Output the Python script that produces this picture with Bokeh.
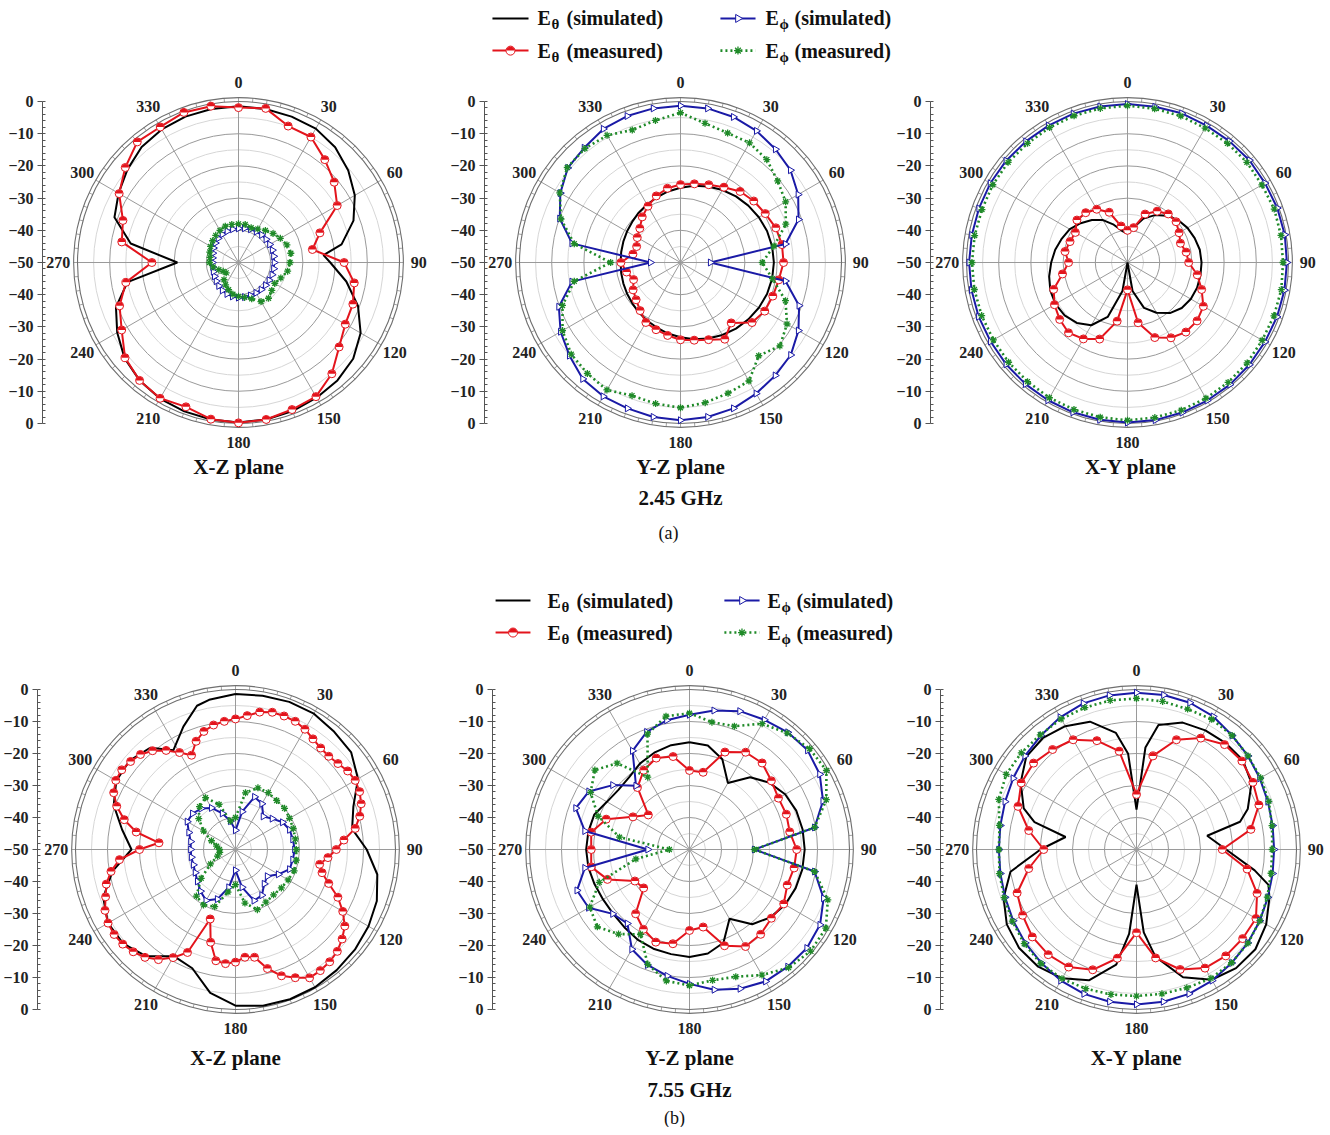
import numpy as np
from bokeh.plotting import figure
from bokeh.layouts import row, column
from bokeh.models import LinearAxis, FixedTicker, CustomJSTickFormatter, Range1d
from bokeh.core.properties import value
from bokeh.embed import file_html
from bokeh.resources import INLINE

# ---------------- data (dB, angle in degrees, 0 at top, clockwise) ----------------
A10 = list(range(0, 360, 10))
A5 = list(range(0, 360, 5))
ANGLE_TICKS = list(range(0, 360, 30))
RADIAL_TICKS = [-50, -40, -30, -20, -10, 0, 10, 20, 30, 40, 50]

# (a) 2.45 GHz, X-Z plane
xz245_th_sim_ang = [0, 10, 20, 30, 40, 50, 60, 70, 80, 85, 90, 100, 110, 120, 130, 140, 150, 160, 170, 180,
                    190, 200, 210, 220, 230, 240, 250, 260, 270, 280, 290, 300, 310, 320, 330, 340, 350]
xz245_th_sim = [-1.5, -1.6, -1.8, -2.0, -3.3, -5.5, -8.3, -12.0, -17.5, -23.5, -21.5, -16.0, -10.5, -6.2, -3.5,
                -2.2, -1.5, -0.9, -0.5, -0.3, -0.5, -0.8, -1.2, -2.2, -3.8, -6.5, -9.5, -15.0, -31.0, -16.0,
                -9.0, -7.0, -5.0, -3.2, -2.3, -1.8, -1.6]
xz245_th_meas = [-1.9, -1.4, -4.9, -5.0, -8.3, -11.2, -14.6, -23.1, -26.7, -17.2, -13.5, -12.2, -11.7, -9.2,
                 -4.9, -1.9, -1.4, -0.5, -0.2, -0.6, -2.3, -1.3, -2.2, -4.0, -8.1, -10.7, -14.5, -23.1, -13.2,
                 -11.8, -7.2, -4.1, -1.1, -1.4, -0.4, -0.7]
xz245_ph_sim = [-39.4, -39.2, -39.0, -38.9, -38.8, -38.8, -38.8, -38.8, -38.9, -38.9, -38.9, -38.9, -39.0,
                -39.0, -39.0, -39.1, -39.1, -39.1, -39.1, -39.3, -39.6, -40.0, -40.5, -41.0, -41.4, -41.7,
                -41.9, -41.9, -41.8, -41.5, -41.0, -40.6, -40.2, -39.9, -39.7, -39.5]
xz245_ph_meas = [-38.0, -38.0, -38.5, -38.0, -37.0, -36.0, -35.0, -34.0, -33.5, -34.0, -34.5, -36.0, -37.0,
                 -36.5, -35.5, -36.0, -38.0, -39.0, -39.5, -40.0, -41.0, -42.0, -43.0, -45.0, -44.5, -43.5,
                 -42.0, -41.0, -41.0, -40.5, -40.0, -39.5, -39.0, -38.5, -38.0, -38.0]

# (a) 2.45 GHz, Y-Z plane
yz245_th_sim = [-26.8, -25.8, -24.9, -24.0, -23.2, -22.5, -21.9, -21.4, -21.1, -21.0, -21.1, -21.4, -21.9,
                -22.5, -23.2, -24.0, -24.9, -25.8, -26.8, -27.6, -28.5, -29.2, -29.8, -30.4, -30.8, -31.1,
                -31.3, -31.4, -31.3, -31.1, -30.8, -30.4, -29.8, -29.2, -28.5, -27.6]
yz245_th_meas = [-25.8, -25.2, -24.3, -23.0, -21.2, -20.3, -19.6, -18.5, -18.0, -18.0, -19.0, -19.5, -19.8,
                 -21.0, -25.5, -22.5, -24.5, -25.5, -26.0, -27.0, -27.8, -28.5, -30.5, -32.0, -33.0, -34.5,
                 -33.0, -31.5, -35.0, -35.5, -34.5, -33.5, -31.5, -29.8, -28.0, -26.6]
yz245_ph_sim = [-1.3, -1.4, -1.9, -2.8, -4.1, -5.4, -7.8, -11.0, -16.9, -40.7, -16.9, -10.8, -7.7, -5.3, -4.2,
                -3.0, -1.8, -1.3, -1.0, -1.3, -1.8, -2.0, -2.8, -5.0, -7.0, -9.8, -15.8, -40.7, -15.8, -10.1,
                -6.9, -4.3, -3.5, -2.1, -1.6, -1.4]
yz245_ph_meas = [-3.5, -6.1, -7.2, -7.1, -8.3, -10.6, -12.3, -15.2, -20.5, -24.6, -21.0, -15.3, -11.8, -9.7,
                 -12.2, -7.5, -6.8, -5.8, -4.9, -5.5, -6.0, -4.3, -5.0, -5.7, -7.7, -11.0, -16.5, -28.3, -16.5,
                 -10.5, -6.7, -4.1, -3.8, -4.4, -6.2, -5.2]

# (a) 2.45 GHz, X-Y plane
xy245_th_sim = [-41.0, -39.0, -35.5, -33.0, -31.0, -29.5, -28.5, -27.8, -27.2, -27.0, -27.0, -27.0, -27.3,
                -28.0, -29.5, -32.0, -35.0, -41.0, -50.0, -41.0, -32.0, -27.5, -25.5, -24.5, -24.2, -24.5,
                -25.3, -26.3, -27.2, -28.3, -29.3, -31.0, -32.8, -34.8, -37.5, -40.0]
xy245_th_meas = [-40.0, -39.0, -34.0, -31.6, -30.3, -30.3, -31.5, -32.5, -31.5, -31.0, -28.0, -25.5, -22.8,
                 -21.8, -21.8, -23.0, -25.2, -31.0, -41.5, -31.5, -24.7, -22.6, -21.5, -22.5, -23.8, -25.6,
                 -29.5, -31.7, -30.3, -31.0, -31.3, -29.5, -29.8, -30.9, -33.4, -38.5]
xy245_ph_sim = [-0.8, -0.9, -0.7, -0.9, -0.8, -0.6, -0.7, -0.5, -0.4, -0.5, -0.5, -0.6, -0.7, -0.6, -0.5, -0.5,
                -0.4, -0.3, -0.3, -0.4, -0.5, -0.6, -0.7, -0.8, -0.9, -0.8, -0.8, -0.8, -0.9, -0.9, -0.8, -0.8,
                -0.9, -0.9, -0.8, -0.8]
xy245_ph_meas = [-1.3, -1.5, -1.6, -1.8, -1.7, -1.6, -1.8, -1.5, -1.6, -1.7, -1.5, -1.6, -1.7, -1.5, -1.4,
                 -1.3, -1.2, -1.1, -1.0, -1.2, -1.4, -1.5, -1.7, -1.8, -1.9, -1.8, -1.7, -1.7, -1.8, -1.9,
                 -1.7, -1.6, -1.7, -1.6, -1.5, -1.4]

# (b) 7.55 GHz, X-Z plane
xz755_th_sim_ang = [0, 10, 20, 30, 40, 50, 60, 70, 80, 90, 100, 110, 120, 130, 140, 150, 160, 170, 180, 190,
                    200, 210, 220, 230, 240, 250, 260, 270, 280, 290, 300, 310, 320, 328, 337, 345, 350]
xz755_th_sim = [-1.4, -1.2, -0.9, -1.0, -2.0, -2.8, -5.8, -10.8, -13.0, -9.0, -5.0, -3.0, -2.0, -1.3, -0.8,
                -0.3, -0.2, -0.4, -1.2, -4.5, -10.5, -11.5, -6.5, -4.2, -4.0, -6.0, -11.0, -17.5, -14.0, -9.5,
                -7.0, -6.8, -8.5, -13.4, -8.3, -3.5, -2.5]
xz755_th_meas = [-9.2, -8.0, -6.4, -5.6, -5.6, -5.8, -6.6, -7.8, -8.6, -8.8, -8.2, -7.2, -6.8, -7.2, -8.2, -9.8,
                 -12.0, -16.0, -18.5, -21.0, -23.3, -22.0, -19.0, -14.7, -11.3, -8.3, -6.5, -5.0, -4.2, -3.8,
                 -3.7, -5.8, -8.0, -11.5, -15.8, -16.2, -14.8, -14.2, -14.7, -20.0, -26.9, -14.5, -11.0, -8.0,
                 -6.0, -4.8, -4.0, -3.7, -4.0, -5.0, -6.8, -8.2, -10.5, -13.6, -20.0, -26.0, -18.5, -14.0,
                 -10.5, -8.0, -6.8, -6.6, -7.2, -8.0, -9.7, -12.2, -15.0, -17.5, -14.0, -11.8, -10.5, -9.8]
xz755_ph_sim = [-44.0, -38.0, -32.5, -33.5, -36.5, -35.0, -33.0, -32.0, -31.8, -31.5, -31.8, -32.0, -34.5,
                -37.0, -36.0, -33.5, -33.0, -38.0, -43.5, -38.0, -33.5, -31.6, -33.0, -34.5, -35.5, -36.0,
                -36.0, -36.0, -35.8, -34.5, -32.6, -32.5, -33.3, -35.0, -38.0, -41.0]
xz755_ph_meas = [-40.0, -32.0, -29.5, -29.5, -30.0, -30.0, -30.5, -30.8, -31.0, -31.0, -30.7, -30.5, -31.0,
                 -31.3, -31.5, -31.0, -30.0, -33.0, -39.0, -36.5, -31.0, -30.0, -31.0, -36.0, -41.0, -44.0,
                 -45.0, -45.0, -44.0, -42.0, -38.5, -35.0, -32.5, -31.3, -35.0, -41.0]

# (b) 7.55 GHz, Y-Z plane
yz755_th_sim = [-16.5, -17.0, -20.0, -26.0, -20.5, -17.5, -15.5, -14.5, -14.1, -14.0, -14.2, -14.7, -15.5,
                -17.0, -19.5, -25.0, -19.0, -17.0, -16.4, -16.8, -17.0, -17.5, -18.3, -18.8, -18.8, -18.4,
                -17.9, -17.7, -17.9, -18.3, -20.2, -21.0, -20.6, -19.0, -17.8, -16.9]
yz755_th_meas = [-25.3, -25.5, -17.6, -14.9, -14.7, -16.6, -17.9, -17.8, -18.2, -16.5, -16.8, -17.5, -16.0,
                 -16.6, -15.4, -15.0, -18.0, -25.4, -24.7, -20.1, -19.2, -21.2, -23.8, -31.3, -30.3, -22.7,
                 -18.8, -19.3, -18.8, -22.3, -29.6, -33.2, -24.7, -21.4, -19.6, -20.5]
yz755_ph_sim = [-7.9, -5.9, -4.0, -3.2, -2.2, -1.8, -3.0, -5.6, -10.3, -29.7, -10.3, -5.4, -2.9, -2.1, -2.2,
                -2.4, -3.7, -5.5, -8.0, -9.9, -11.6, -14.0, -19.8, -18.7, -13.6, -12.6, -16.8, -37.0, -16.8,
                -12.2, -13.7, -18.7, -24.0, -14.4, -10.9, -9.0]
yz755_ph_meas = [-7.4, -9.6, -9.0, -4.6, -2.5, -1.0, -0.6, -4.5, -10.3, -29.7, -10.3, -4.0, -0.8, -0.6, -1.8,
                 -4.7, -7.7, -8.5, -7.5, -8.3, -11.8, -19.4, -15.5, -12.4, -14.0, -20.0, -33.0, -43.7, -27.8,
                 -19.6, -14.3, -11.4, -14.8, -23.9, -11.6, -7.7]

# (b) 7.55 GHz, X-Y plane
xy755_th_sim_ang = [0, 5, 10, 20, 30, 40, 50, 60, 70, 75, 79, 90, 100, 105, 110, 120, 130, 140, 150, 160, 170,
                    175, 180, 185, 190, 200, 210, 220, 230, 240, 250, 260, 270, 280, 285, 290, 300, 310, 320,
                    330, 340, 350, 355]
xy755_th_sim = [-37.5, -18.0, -10.5, -7.8, -7.0, -6.6, -6.6, -8.5, -13.0, -16.5, -27.5, -22.0, -12.5, -7.3,
                -5.8, -3.2, -1.5, -1.6, -3.0, -7.5, -16.0, -24.0, -39.0, -23.5, -13.5, -6.5, -3.5, -2.2, -2.1,
                -3.2, -5.8, -10.0, -20.0, -27.5, -17.0, -12.5, -8.2, -5.0, -4.5, -5.5, -7.5, -13.0, -20.0]
xy755_th_meas = [-32.8, -20.3, -13.5, -9.8, -7.2, -7.0, -8.0, -9.3, -13.7, -23.2, -14.9, -9.9, -6.9, -6.7,
                 -6.6, -7.2, -10.1, -15.6, -24.0, -15.5, -10.0, -7.6, -7.1, -7.5, -8.9, -10.3, -15.8, -21.0,
                 -15.8, -10.6, -8.4, -8.0, -9.2, -10.4, -13.8, -18.8]
xy755_ph_sim = [-1.0, -1.0, -1.2, -2.0, -3.5, -4.5, -5.5, -6.3, -6.8, -7.0, -6.8, -6.3, -5.5, -4.6, -3.7, -2.7,
                -2.0, -1.7, -1.6, -1.7, -2.0, -2.7, -3.7, -4.6, -5.5, -6.3, -6.8, -7.0, -6.8, -6.3, -5.5, -4.5,
                -3.5, -2.3, -1.4, -1.1]
xy755_ph_meas = [-2.8, -3.0, -3.3, -3.0, -3.5, -4.5, -5.2, -6.0, -7.0, -7.6, -7.3, -6.5, -5.5, -4.5, -3.8,
                 -3.5, -4.0, -4.2, -4.2, -4.0, -3.7, -3.4, -3.5, -4.2, -5.2, -6.0, -6.5, -7.0, -6.5, -4.2,
                 -3.0, -3.0, -3.2, -2.9, -2.8, -2.7]

# ---------------- styling ----------------
FONT = "Liberation Serif"
BLACK = "#000000"
RED = "#e3141c"
BLUE = "#1a1aa6"
GREEN = "#1f8a28"
GRID_MAJOR = "#9a9a9a"
GRID_MINOR = "#d6d6d6"


def to_xy(ang, db):
    a = np.radians(np.asarray(ang, dtype=float))
    r = np.clip(np.asarray(db, dtype=float) + 50.0, 0.0, None)
    return r * np.sin(a), r * np.cos(a)


def draw_series(p, ang, db, kind):
    mx, my = to_xy(ang, db)
    x = np.append(mx, mx[0])
    y = np.append(my, my[0])
    if kind == "th_sim":
        p.line(x, y, line_color=BLACK, line_width=2)
    elif kind == "th_meas":
        p.line(x, y, line_color=RED, line_width=2)
        p.scatter(mx, my, marker="circle", size=8, fill_color="white", line_color=RED, line_width=1)
        p.wedge(mx, my, radius=3.6, radius_units="screen", start_angle=0, end_angle=np.pi,
                fill_color=RED, line_color=None)
    elif kind == "ph_sim":
        p.line(x, y, line_color=BLUE, line_width=2)
        p.scatter(mx, my, marker="triangle", angle=-np.pi / 2, size=7, fill_color="white",
                  line_color=BLUE, line_width=1)
    elif kind == "ph_meas":
        p.line(x, y, line_color=GREEN, line_width=2.6, line_dash="2 3")
        p.scatter(mx, my, marker="asterisk", size=7, line_color=GREEN, line_width=1.3)


def legend_sample(p, xa, xb, yy, kind):
    xm = 0.5 * (xa + xb)
    if kind == "th_sim":
        p.line([xa, xb], [yy, yy], line_color=BLACK, line_width=2)
    elif kind == "th_meas":
        p.line([xa, xb], [yy, yy], line_color=RED, line_width=2)
        p.scatter([xm], [yy], marker="circle", size=9, fill_color="white", line_color=RED, line_width=1)
        p.wedge([xm], [yy], radius=4.2, radius_units="screen", start_angle=0, end_angle=np.pi,
                fill_color=RED, line_color=None)
    elif kind == "ph_sim":
        p.line([xa, xb], [yy, yy], line_color=BLUE, line_width=2)
        p.scatter([xm], [yy], marker="triangle", angle=-np.pi / 2, size=8, fill_color="white",
                  line_color=BLUE, line_width=1)
    elif kind == "ph_meas":
        p.line([xa, xb], [yy, yy], line_color=GREEN, line_width=2.6, line_dash="2 3")
        p.scatter([xm], [yy], marker="asterisk", size=8, line_color=GREEN, line_width=1.3)


def legend_entry(p, xt, yy, sub, word):
    common = dict(text_font=value(FONT), text_font_style="bold", text_color="#111",
                  text_baseline="middle", text_align="left")
    p.text([xt], [yy], text=["E"], text_font_size="20px", **common)
    p.text([xt], [yy], text=[sub], text_font_size="15px", x_offset=14, y_offset=6, **common)
    p.text([xt], [yy], text=[word], text_font_size="20px", x_offset=29, **common)


def make_panel(frame_w, frame_h, border, cx, cy, s, series, captions, legend=None):
    x0, x1 = -cx / s, (frame_w - cx) / s
    y0, y1 = -(frame_h - cy) / s, cy / s
    p = figure(frame_width=frame_w, frame_height=frame_h, x_range=Range1d(x0, x1), y_range=Range1d(y0, y1),
               x_axis_location=None, y_axis_location=None, toolbar_location=None, output_backend="svg",
               min_border_left=border, min_border_right=0, min_border_top=0, min_border_bottom=0,
               title=None)
    p.outline_line_color = None
    p.background_fill_color = "white"
    p.border_fill_color = "white"
    p.xgrid.visible = False
    p.ygrid.visible = False

    # radial axis on the left
    ax = LinearAxis(ticker=FixedTicker(ticks=RADIAL_TICKS, minor_ticks=list(range(-50, 51, 2))),
                    formatter=CustomJSTickFormatter(
                        code="var v = Math.abs(tick) - 50; return v < 0 ? '\u2212' + String(-v) : String(v);"),
                    bounds=(-50, 50))
    ax.axis_line_color = "#555555"
    ax.major_tick_line_color = "#555555"
    ax.minor_tick_line_color = "#555555"
    ax.major_tick_out = 5
    ax.major_tick_in = 0
    ax.minor_tick_out = 0
    ax.minor_tick_in = 3
    ax.major_label_standoff = 4
    ax.major_label_text_font = FONT
    ax.major_label_text_font_style = "bold"
    ax.major_label_text_font_size = "16px"
    ax.major_label_text_color = "#222222"
    p.add_layout(ax, "left")

    # polar grid
    minor_r = [5, 15, 25, 35, 45]
    major_r = [10, 20, 30, 40]
    p.circle([0] * len(minor_r), [0] * len(minor_r), radius=minor_r, fill_color=None,
             line_color=GRID_MINOR, line_width=1)
    p.circle([0] * len(major_r), [0] * len(major_r), radius=major_r, fill_color=None,
             line_color=GRID_MAJOR, line_width=1)
    ga = np.radians(ANGLE_TICKS)
    p.segment([0] * len(ga), [0] * len(ga), 50 * np.sin(ga), 50 * np.cos(ga),
              line_color=GRID_MAJOR, line_width=1)
    ta = np.radians(np.arange(0, 360, 5))
    p.segment(50 * np.sin(ta), 50 * np.cos(ta), 51.2 * np.sin(ta), 51.2 * np.cos(ta),
              line_color="#8a8a8a", line_width=0.8)
    p.circle([0, 0], [0, 0], radius=[50, 51.2], fill_color=None, line_color="#6f6f6f", line_width=1.1)

    # angle labels
    la = np.radians(ANGLE_TICKS)
    p.text(56 * np.sin(la), 56 * np.cos(la), text=[str(a) for a in ANGLE_TICKS],
           text_font=value(FONT), text_font_style="bold", text_font_size="16px", text_color="#222222",
           text_align="center", text_baseline="middle")

    for ang, db, kind in series:
        draw_series(p, ang, db, kind)

    for (tx, ty, txt, size, style) in captions:
        p.text([tx], [ty], text=[txt], text_font=value(FONT), text_font_style=style, text_font_size=size,
               text_color="#111111", text_align="center", text_baseline="middle")

    if legend is not None:
        ya, yb, c1a, c1b, c1t, c2a, c2b, c2t = legend
        legend_sample(p, c1a, c1b, ya, "th_sim")
        legend_entry(p, c1t, ya, "θ", "(simulated)")
        legend_sample(p, c2a, c2b, ya, "ph_sim")
        legend_entry(p, c2t, ya, "ϕ", "(simulated)")
        legend_sample(p, c1a, c1b, yb, "th_meas")
        legend_entry(p, c1t, yb, "θ", "(measured)")
        legend_sample(p, c2a, c2b, yb, "ph_meas")
        legend_entry(p, c2t, yb, "ϕ", "(measured)")
    return p


S1, S2 = 3.22, 3.2
H1, H2 = 583, 544
CY1, CY2 = 262, 266

p1 = make_panel(403, H1, 42, 196, CY1, S1,
                [(xz245_th_sim_ang, xz245_th_sim, "th_sim"), (A10, xz245_th_meas, "th_meas"),
                 (A10, xz245_ph_sim, "ph_sim"), (A10, xz245_ph_meas, "ph_meas")],
                [(0, -63.4, "X-Z plane", "21px", "bold")])
p2 = make_panel(409, H1, 39, 196, CY1, S1,
                [(A10, yz245_th_sim, "th_sim"), (A10, yz245_th_meas, "th_meas"),
                 (A10, yz245_ph_sim, "ph_sim"), (A10, yz245_ph_meas, "ph_meas")],
                [(0, -63.4, "Y-Z plane", "21px", "bold"), (0, -73.0, "2.45 GHz", "21px", "bold"),
                 (-3.7, -83.9, "(a)", "18px", "normal")],
                legend=(75.8, 65.8, -58.4, -47.2, -44.4, 12.4, 23.3, 26.4))
p3 = make_panel(393, H1, 36, 197, CY1, S1,
                [(A10, xy245_th_sim, "th_sim"), (A10, xy245_th_meas, "th_meas"),
                 (A10, xy245_ph_sim, "ph_sim"), (A10, xy245_ph_meas, "ph_meas")],
                [(1.0, -63.4, "X-Y plane", "21px", "bold")])

p4 = make_panel(412, H2, 35, 198, CY2, S2,
                [(xz755_th_sim_ang, xz755_th_sim, "th_sim"), (A5, xz755_th_meas, "th_meas"),
                 (A10, xz755_ph_sim, "ph_sim"), (A10, xz755_ph_meas, "ph_meas")],
                [(0, -65.3, "X-Z plane", "21px", "bold")])
p5 = make_panel(407, H2, 43, 197, CY2, S2,
                [(A10, yz755_th_sim, "th_sim"), (A10, yz755_th_meas, "th_meas"),
                 (A10, yz755_ph_sim, "ph_sim"), (A10, yz755_ph_meas, "ph_meas")],
                [(0, -65.3, "Y-Z plane", "21px", "bold"), (0, -75.0, "7.55 GHz", "21px", "bold"),
                 (-4.7, -83.8, "(b)", "18px", "normal")],
                legend=(77.8, 67.8, -60.6, -49.7, -44.4, 10.9, 21.9, 24.4))
p6 = make_panel(384, H2, 41, 196, CY2, S2,
                [(xy755_th_sim_ang, xy755_th_sim, "th_sim"), (A10, xy755_th_meas, "th_meas"),
                 (A10, xy755_ph_sim, "ph_sim"), (A10, xy755_ph_meas, "ph_meas")],
                [(0, -65.3, "X-Y plane", "21px", "bold")])

layout = column(row(p1, p2, p3), row(p4, p5, p6))

open("out.html", "w").write(file_html(layout, INLINE))
